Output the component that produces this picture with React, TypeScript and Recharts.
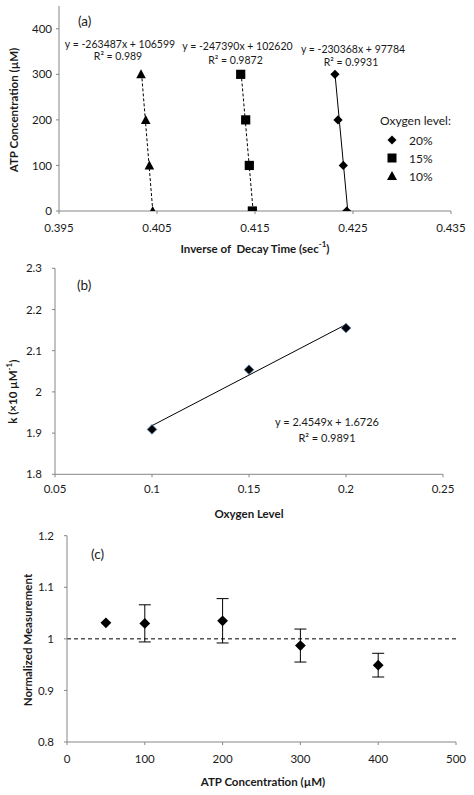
import { ScatterChart, Scatter, XAxis, YAxis, ReferenceLine, ErrorBar, Legend } from 'recharts';

// panel (a): ATP concentration vs inverse decay time, per oxygen level
const atpLevels = [0, 100, 200, 300];
const inv20 = [0.42436, 0.42401, 0.42347, 0.42316];
const inv15 = [0.41473, 0.41442, 0.41405, 0.41354];
const inv10 = [0.40456, 0.40422, 0.40385, 0.40337];
const oxygenNames = ['20%', '15%', '10%'];
const fitSlopes = [-230368, -247390, -263487];
const fitIntercepts = [97784, 102620, 106599];
const fitR2 = ['0.9931', '0.9872', '0.989'];
const xTicksA = [0.395, 0.405, 0.415, 0.425, 0.435];
const yTicksA = [0, 100, 200, 300, 400];

// panel (b): k vs oxygen level
const oxygenLevels = [0.1, 0.15, 0.2];
const kValues = [1.909, 2.054, 2.155];
const kSlope = 2.4549;
const kIntercept = 1.6726;
const kR2 = '0.9891';
const xTicksB = [0.05, 0.1, 0.15, 0.2, 0.25];
const yTicksB = [1.8, 1.9, 2, 2.1, 2.2, 2.3];

// panel (c): normalized measurement vs ATP
const atpC = [50, 100, 200, 300, 400];
const normValues = [1.031, 1.03, 1.035, 0.987, 0.949];
const normErrors = [0, 0.036, 0.043, 0.032, 0.023];
const xTicksC = [0, 100, 200, 300, 400, 500];
const yTicksC = [0.8, 0.9, 1, 1.1, 1.2];

const FONT = 'Lato, "Open Sans", sans-serif';
const AXIS = '#868686';
const INK = '#1a1a1a';

const toPoints = (xs: number[]) => xs.map((x, i) => ({ x, y: atpLevels[i] }));
const seriesA = [toPoints(inv20), toPoints(inv15), toPoints(inv10)];
const shapesA = ['diamond', 'square', 'triangle'] as const;

const Diamond = (props: any) => {
  const { cx, cy } = props;
  const r = props.r ?? 4.6;
  return (
    <polygon
      points={`${cx},${cy - r} ${cx + r},${cy} ${cx},${cy + r} ${cx - r},${cy}`}
      fill="#000"
      stroke={props.edge ?? 'none'}
      strokeWidth={0.8}
    />
  );
};
const Square = (props: any) => <rect x={props.cx - 4.6} y={props.cy - 4.6} width={9.2} height={9.2} fill="#000" />;
const Triangle = (props: any) => {
  const { cx, cy } = props;
  return <polygon points={`${cx},${cy - 5} ${cx + 4.8},${cy + 4} ${cx - 4.8},${cy + 4}`} fill="#000" />;
};
const shapeFor = { diamond: Diamond, square: Square, triangle: Triangle };

function legendIcon(type: string) {
  if (type === 'square') return <rect x={2.5} y={2.5} width={9} height={9} fill="#000" />;
  if (type === 'triangle') return <polygon points="7,2 12,11 2,11" fill="#000" />;
  return <polygon points="7,2.5 11.5,7 7,11.5 2.5,7" fill="#000" />;
}

const OxygenLegend = (props: any) => {
  const items = [...(props.payload || [])].sort(
    (a: any, b: any) => oxygenNames.indexOf(a.value) - oxygenNames.indexOf(b.value)
  );
  return (
    <div style={{ fontSize: 12, color: INK, fontFamily: FONT }}>
      <div style={{ height: 20, lineHeight: '20px' }}>Oxygen level:</div>
      {items.map((entry: any) => (
        <div key={entry.value} style={{ display: 'flex', alignItems: 'center', height: 18 }}>
          <svg width={14} height={14} style={{ marginLeft: 5 }}>
            {legendIcon(entry.type)}
          </svg>
          <span style={{ marginLeft: 10 }}>{entry.value}</span>
        </div>
      ))}
    </div>
  );
};

const tickStyle = { fill: INK, fontSize: 11.5 };
const titleStyle = { fontSize: 11.5, fontWeight: 700, fill: INK };

const RotLabel = ({ x, y, children }: any) => (
  <text x={x} y={y} transform={`rotate(-90 ${x} ${y})`} textAnchor="middle" dominantBaseline="central" style={titleStyle}>
    {children}
  </text>
);

const fitX = (i: number, y: number) => (y - fitIntercepts[i]) / fitSlopes[i];

function PanelA() {
  return (
    <ScatterChart width={474} height={260} margin={{ top: 6, right: 23, bottom: 0, left: 0 }}>
      <XAxis
        type="number"
        dataKey="x"
        domain={[0.395, 0.435]}
        ticks={xTicksA}
        tickFormatter={(v: number) => v.toFixed(3)}
        height={49}
        stroke={AXIS}
        tick={tickStyle}
        tickSize={3}
        tickMargin={10}
        allowDataOverflow
      />
      <YAxis
        type="number"
        dataKey="y"
        domain={[0, 450]}
        ticks={yTicksA}
        width={59}
        stroke={AXIS}
        tick={tickStyle}
        tickSize={3}
        tickMargin={4}
        allowDataOverflow
      />
      {seriesA.map((data, i) => (
        <ReferenceLine
          key={'fit' + i}
          segment={[
            { x: fitX(i, 0), y: 0 },
            { x: fitX(i, 300), y: 300 },
          ]}
          stroke="#000"
          strokeWidth={1}
          strokeDasharray={i === 0 ? undefined : '3 2'}
          ifOverflow="visible"
        />
      ))}
      {seriesA.map((data, i) => (
        <Scatter
          key={oxygenNames[i]}
          name={oxygenNames[i]}
          data={data}
          legendType={shapesA[i]}
          fill="#000"
          shape={shapeFor[shapesA[i]]}
          isAnimationActive={false}
        />
      ))}
      <Legend
        layout="horizontal"
        verticalAlign="middle"
        align="center"
        content={OxygenLegend}
        wrapperStyle={{ left: 380, top: 111, width: 94 }}
      />
      <text x={78} y={21} dominantBaseline="central" style={{ fontSize: 13.5, fill: INK }}>(a)</text>
      {[2, 1, 0].map((i, k) => {
        const cxs = [120, 237.5, 353];
        const ys = [44, 45.5, 49];
        const rys = [55.5, 59.5, 62];
        return (
          <g key={'eq' + i} style={{ fontSize: 10.5, fill: INK }}>
            <text x={cxs[k]} y={ys[k]} textAnchor="middle" dominantBaseline="central">
              {`y = ${fitSlopes[i]}x + ${fitIntercepts[i]}`}
            </text>
            <text x={cxs[k] - 2} y={rys[k]} textAnchor="middle" dominantBaseline="central">
              {`R² = ${fitR2[i]}`}
            </text>
          </g>
        );
      })}
      <text x={255} y={248} textAnchor="middle" dominantBaseline="central" style={titleStyle}>
        {'Inverse of\u00a0 Decay Time (sec'}
        <tspan dy={-4} fontSize={8}>-1</tspan>
        <tspan dy={4}>)</tspan>
      </text>
      <RotLabel x={13} y={110}>ATP Concentration (µM)</RotLabel>
    </ScatterChart>
  );
}

const kData = oxygenLevels.map((x, i) => ({ x, y: kValues[i] }));

function PanelB() {
  return (
    <ScatterChart width={474} height={265} margin={{ top: 13.3, right: 31, bottom: 0, left: 0 }}>
      <XAxis
        type="number"
        dataKey="x"
        domain={[0.05, 0.25]}
        ticks={xTicksB}
        height={45.7}
        stroke={AXIS}
        tick={tickStyle}
        tickSize={3}
        tickMargin={8}
        allowDataOverflow
      />
      <YAxis
        type="number"
        dataKey="y"
        domain={[1.8, 2.3]}
        ticks={yTicksB}
        width={55}
        stroke={AXIS}
        tick={tickStyle}
        tickSize={3}
        tickMargin={10}
        allowDataOverflow
      />
      <ReferenceLine
        segment={[
          { x: oxygenLevels[0], y: kSlope * oxygenLevels[0] + kIntercept },
          { x: oxygenLevels[2], y: kSlope * oxygenLevels[2] + kIntercept },
        ]}
        stroke="#000"
        strokeWidth={1}
        ifOverflow="visible"
      />
      <Scatter
        data={kData}
        fill="#000"
        shape={(p: any) => <Diamond {...p} r={4.8} edge="#4f81bd" />}
        isAnimationActive={false}
      />
      <text x={77} y={30} dominantBaseline="central" style={{ fontSize: 13.5, fill: INK }}>(b)</text>
      <g style={{ fontSize: 11, fill: INK }}>
        <text x={327} y={166.7} textAnchor="middle" dominantBaseline="central">
          {`y = ${kSlope}x + ${kIntercept}`}
        </text>
        <text x={327} y={182.7} textAnchor="middle" dominantBaseline="central">{`R² = ${kR2}`}</text>
      </g>
      <text x={249} y={258} textAnchor="middle" dominantBaseline="central" style={titleStyle}>Oxygen Level</text>
      <RotLabel x={13} y={136.7}>
        k (×10 µM<tspan dy={-4} fontSize={8}>-1</tspan><tspan dy={4}>)</tspan>
      </RotLabel>
    </ScatterChart>
  );
}

const normData = atpC.map((x, i) => ({ x, y: normValues[i], err: normErrors[i] }));

function PanelC() {
  return (
    <ScatterChart width={474} height={275} margin={{ top: 15.7, right: 18, bottom: 0, left: 0 }}>
      <XAxis
        type="number"
        dataKey="x"
        domain={[0, 500]}
        ticks={xTicksC}
        height={53}
        stroke={AXIS}
        tick={tickStyle}
        tickSize={3}
        tickMargin={10}
        allowDataOverflow
      />
      <YAxis
        type="number"
        dataKey="y"
        domain={[0.8, 1.2]}
        ticks={yTicksC}
        tickFormatter={(v: number) => String(Number(v.toFixed(1)))}
        width={67}
        stroke={AXIS}
        tick={tickStyle}
        tickSize={3}
        tickMargin={10}
        allowDataOverflow
      />
      <ReferenceLine y={1} stroke="#000" strokeWidth={1} strokeDasharray="4 3" />
      <Scatter data={normData} fill="#000" shape={(p: any) => <Diamond {...p} r={5.4} />} isAnimationActive={false}>
        <ErrorBar dataKey="err" direction="y" width={6} stroke="#000" strokeWidth={1} />
      </Scatter>
      <text x={91} y={34} dominantBaseline="central" style={{ fontSize: 13.5, fill: INK }}>(c)</text>
      <text x={263} y={261.7} textAnchor="middle" dominantBaseline="central" style={titleStyle}>
        ATP Concentration (µM)
      </text>
      <RotLabel x={27} y={120}>Normalized Measurement</RotLabel>
    </ScatterChart>
  );
}

export default function App() {
  return (
    <div style={{ position: 'absolute', left: 0, top: 0, width: 474, height: 795, background: '#fff', fontFamily: FONT }}>
      <div style={{ position: 'absolute', left: 0, top: 0 }}>
        <PanelA />
      </div>
      <div style={{ position: 'absolute', left: 0, top: 255 }}>
        <PanelB />
      </div>
      <div style={{ position: 'absolute', left: 0, top: 520 }}>
        <PanelC />
      </div>
    </div>
  );
}
